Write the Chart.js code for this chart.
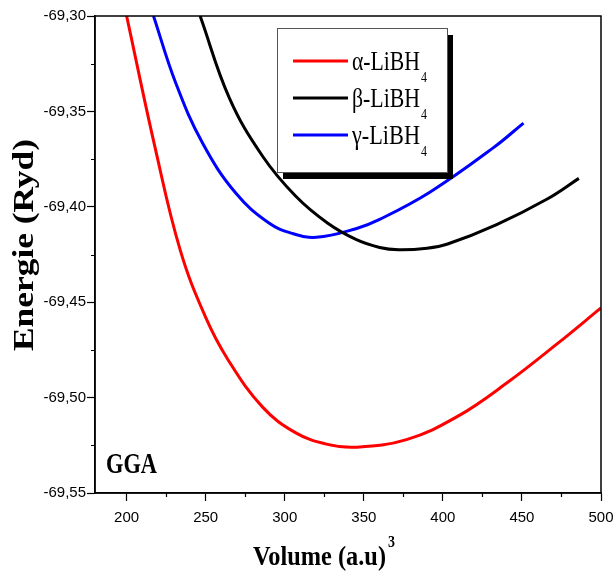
<!DOCTYPE html>
<html>
<head>
<meta charset="utf-8">
<script src="https://cdn.jsdelivr.net/npm/chart.js@4.4.1/dist/chart.umd.min.js"></script>
<style>
  html, body { margin: 0; padding: 0; background: #ffffff; }
  #wrap { width: 614px; height: 575px; }
</style>
</head>
<body>
<div id="wrap"><canvas id="c" width="614" height="575"></canvas></div>
<script>
// ---- Data ----
const alphaVolume = [200, 218, 234, 250, 264, 286, 307, 327, 345, 377, 409, 441, 472, 500];
const alphaEnergy = [-69.300, -69.369, -69.423, -69.458, -69.480, -69.505, -69.5185, -69.5245, -69.526, -69.522, -69.510, -69.492, -69.472, -69.453];

const betaVolume = [246.5, 265, 286, 307, 327, 345, 360, 372, 390, 403, 434, 466, 486];
const betaEnergy = [-69.300, -69.343, -69.3735, -69.3945, -69.4085, -69.4171, -69.4213, -69.4225, -69.4217, -69.4195, -69.4093, -69.3959, -69.3851];

const gammaVolume = [217, 231, 248, 269, 290, 305, 320, 345, 360, 392, 432, 451];
const gammaEnergy = [-69.300, -69.335, -69.3666, -69.3928, -69.4085, -69.414, -69.416, -69.4115, -69.4066, -69.3922, -69.369, -69.3561];

const seriesNames = ['α-LiBH', 'β-LiBH', 'γ-LiBH'];
const seriesSub = '4';
const seriesColors = ['#ff0000', '#000000', '#0000ff'];

const xTickValues = [200, 225, 250, 275, 300, 325, 350, 375, 400, 425, 450, 475, 500];
const xTickLabels = ['200', '', '250', '', '300', '', '350', '', '400', '', '450', '', '500'];
const yTickValues = [-69.55, -69.525, -69.50, -69.475, -69.45, -69.425, -69.40, -69.375, -69.35, -69.325, -69.30];
const yTickLabels = ['-69,55', '', '-69,50', '', '-69,45', '', '-69,40', '', '-69,35', '', '-69,30'];

const xTitle = 'Volume (a.u)';
const xTitleSup = '3';
const yTitle = 'Energie (Ryd)';
const panelLabel = 'GGA';

const xMin = 180, xMax = 500;
const yMin = -69.55, yMax = -69.30;

function toPoints(xs, ys) { return xs.map((x, i) => ({ x: x, y: ys[i] })); }
function labelFor(values, labels, v) {
  const i = values.findIndex(t => Math.abs(t - v) < 1e-6);
  return i >= 0 ? labels[i] : '';
}

function condText(ctx, text, x, y, font, targetW, align) {
  ctx.save();
  ctx.font = font;
  const w = ctx.measureText(text).width;
  const sx = targetW ? targetW / w : 1;
  ctx.translate(x, y);
  ctx.scale(sx, 1);
  ctx.textAlign = align || 'left';
  ctx.textBaseline = 'alphabetic';
  ctx.fillText(text, 0, 0);
  ctx.restore();
  return w * sx;
}

const deco = {
  id: 'deco',
  afterDraw(chart) {
    const ctx = chart.ctx, a = chart.chartArea;
    const xs = chart.scales.x, ys = chart.scales.y;
    ctx.save();
    // frame
    ctx.strokeStyle = '#000';
    ctx.lineWidth = 1.5;
    ctx.strokeRect(a.left, a.top, a.right - a.left, a.bottom - a.top);
    // minor ticks (unlabelled)
    ctx.lineWidth = 1.2;
    ctx.beginPath();
    xTickValues.forEach((v, i) => {
      if (xTickLabels[i] === '') {
        const px = Math.round(xs.getPixelForValue(v)) + 0.5;
        ctx.moveTo(px, a.bottom); ctx.lineTo(px, a.bottom + 4);
      }
    });
    yTickValues.forEach((v, i) => {
      if (yTickLabels[i] === '') {
        const py = Math.round(ys.getPixelForValue(v)) + 0.5;
        ctx.moveTo(a.left, py); ctx.lineTo(a.left - 4, py);
      }
    });
    ctx.stroke();

    // legend box with shadow
    const bx = 277, by = 28, bw = 170, bh = 144;
    ctx.fillStyle = '#000';
    ctx.fillRect(bx + 6, by + 7, bw, bh);
    ctx.fillStyle = '#fff';
    ctx.fillRect(bx, by, bw, bh);
    ctx.strokeStyle = '#555';
    ctx.lineWidth = 1;
    ctx.strokeRect(bx + 0.5, by + 0.5, bw, bh);
    seriesNames.forEach((name, i) => {
      const ly = 61 + i * 37;
      ctx.strokeStyle = seriesColors[i];
      ctx.lineWidth = 3;
      ctx.beginPath();
      ctx.moveTo(293, ly); ctx.lineTo(348, ly);
      ctx.stroke();
      ctx.fillStyle = '#000';
      const w = condText(ctx, name, 352, ly + 9, '27px "Liberation Serif"', 68, 'left');
      condText(ctx, seriesSub, 352 + w + 1, ly + 21, '15px "Liberation Serif"', 6, 'left');
    });

    // panel label
    ctx.fillStyle = '#000';
    condText(ctx, panelLabel, 106, 473, 'bold 30px "Liberation Serif"', 51, 'left');

    // x title
    const tw = condText(ctx, xTitle, 253, 565, 'bold 28px "Liberation Serif"', 133, 'left');
    condText(ctx, xTitleSup, 253 + tw + 2, 547, 'bold 16px "Liberation Serif"', 7, 'left');

    // y title
    ctx.save();
    ctx.translate(33, 245);
    ctx.rotate(-Math.PI / 2);
    condText(ctx, yTitle, 0, 0, 'bold 30px "Liberation Serif"', 212, 'center');
    ctx.restore();

    ctx.restore();
  }
};

const chart = new Chart(document.getElementById('c'), {
  type: 'line',
  data: {
    datasets: [
      { label: seriesNames[0], data: toPoints(alphaVolume, alphaEnergy), borderColor: seriesColors[0] },
      { label: seriesNames[1], data: toPoints(betaVolume, betaEnergy), borderColor: seriesColors[1] },
      { label: seriesNames[2], data: toPoints(gammaVolume, gammaEnergy), borderColor: seriesColors[2] }
    ].map(d => Object.assign(d, { borderWidth: 3, pointRadius: 0, fill: false, tension: 0.4 }))
  },
  options: {
    responsive: false,
    animation: false,
    events: [],
    layout: { padding: { top: 16, right: 13, bottom: 0, left: 0 } },
    plugins: { legend: { display: false }, tooltip: { enabled: false } },
    scales: {
      x: {
        type: 'linear',
        min: xMin, max: xMax,
        afterBuildTicks(s) { s.ticks = xTickValues.map(v => ({ value: v })); },
        afterFit(s) { s.height = 82; s.paddingLeft = 0; s.paddingRight = 0; },
        grid: {
          drawOnChartArea: false, drawTicks: true, tickLength: 8,
          tickColor: c => (c.tick && labelFor(xTickValues, xTickLabels, c.tick.value) !== '') ? '#000' : 'rgba(0,0,0,0)',
          tickWidth: 1.2
        },
        border: { display: true, color: '#000', width: 1.5 },
        ticks: {
          autoSkip: false, maxRotation: 0, padding: 8,
          color: '#000', font: { family: '"Liberation Sans"', size: 15 },
          callback: v => labelFor(xTickValues, xTickLabels, v)
        }
      },
      y: {
        type: 'linear',
        min: yMin, max: yMax,
        afterBuildTicks(s) { s.ticks = yTickValues.map(v => ({ value: v })); },
        afterFit(s) { s.width = 95; s.paddingTop = 0; s.paddingBottom = 0; },
        grid: {
          drawOnChartArea: false, drawTicks: true, tickLength: 8,
          tickColor: c => (c.tick && labelFor(yTickValues, yTickLabels, c.tick.value) !== '') ? '#000' : 'rgba(0,0,0,0)',
          tickWidth: 1.2
        },
        border: { display: true, color: '#000', width: 1.5 },
        ticks: {
          autoSkip: false, padding: 1,
          color: '#000', font: { family: '"Liberation Sans"', size: 15 },
          callback: v => labelFor(yTickValues, yTickLabels, v)
        }
      }
    }
  },
  plugins: [deco]
});
</script>
</body>
</html>
